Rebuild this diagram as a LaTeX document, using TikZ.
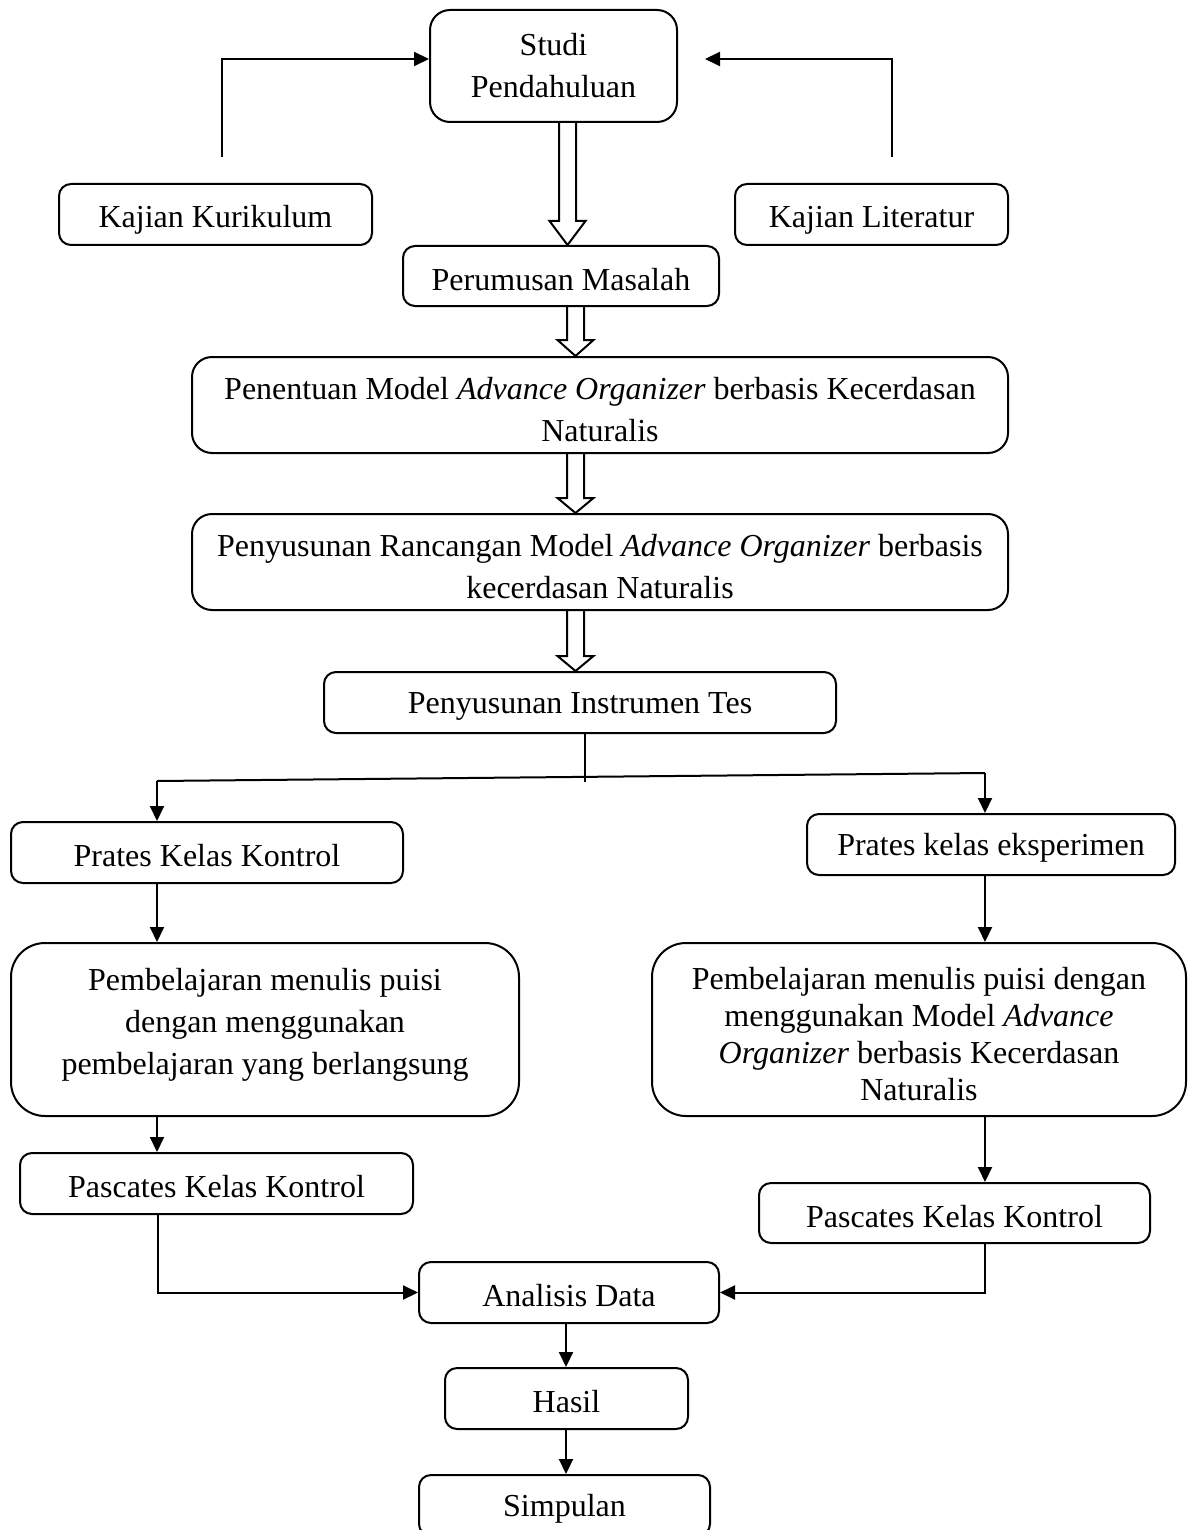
\documentclass[tikz,border=0pt]{standalone}
\usepackage{fontspec}
\setmainfont{Liberation Serif}
\usetikzlibrary{arrows.meta,calc}
\newcommand\hs{\rule{0pt}{14.5pt}}
\newcommand\hm{\rule{0pt}{16pt}}
\newcommand\dn{\rule[-8.5pt]{0pt}{8.5pt}}
\tikzset{
  box/.style={draw, line width=1pt, rounded corners=6pt, align=center, inner sep=0pt,
    font=\fontsize{16}{21}\selectfont},
  ln/.style={line width=1pt},
  arr/.style={line width=1pt, -{Triangle[length=7.5pt,width=7pt]}},
  hol/.style={line width=1pt, line join=miter},
}
\newcommand\hollowarrow[4]{%
  \draw[hol] let \p1=(#2), \p2=(#3) in
   ({#1*0.5pt-4.25pt},\y1) -- ({#1*0.5pt-4.25pt},{\y2+#4*0.5pt}) --
   ({#1*0.5pt-9pt},{\y2+#4*0.5pt}) -- ({#1*0.5pt},\y2) --
   ({#1*0.5pt+9pt},{\y2+#4*0.5pt}) -- ({#1*0.5pt+4.25pt},{\y2+#4*0.5pt}) --
   ({#1*0.5pt+4.25pt},\y1);}
\begin{document}
\begin{tikzpicture}[x=0.5pt,y=-0.5pt]
\useasboundingbox (0,0) rectangle (1194,1530);
\clip (0,0) rectangle (1194,1530);
% nodes
\node[box, rounded corners=10pt, minimum width=123.5pt, minimum height=56pt] (studi) at (553.5,66) {Studi\\Pendahuluan};
\node[box, minimum width=156.5pt, minimum height=30.5pt] (kk) at (215.5,214.5) {\hm Kajian Kurikulum};
\node[box, minimum width=136.5pt, minimum height=30.5pt] (kl) at (871.5,214.5) {\hm Kajian Literatur};
\node[box, minimum width=158pt, minimum height=30pt] (perum) at (561,276) {\hs Perumusan Masalah};
\node[box, rounded corners=10pt, minimum width=408pt, minimum height=48pt] (penent) at (600,405)
  {\hm Penentuan Model \textit{Advance Organizer} berbasis Kecerdasan\\Naturalis};
\node[box, rounded corners=10pt, minimum width=408pt, minimum height=48pt] (penyus) at (600,562)
  {\hm Penyusunan Rancangan Model \textit{Advance Organizer} berbasis\\kecerdasan Naturalis};
\node[box, minimum width=256pt, minimum height=30.5pt] (instr) at (580,702.5) {\hs Penyusunan Instrumen Tes};
\node[box, minimum width=196pt, minimum height=30.5pt] (pratesK) at (207,852.5) {\hs Prates Kelas Kontrol};
\node[box, minimum width=184pt, minimum height=30.5pt] (pratesE) at (991,844.5) {\hs Prates kelas eksperimen};
\node[box, rounded corners=17pt, minimum width=254pt, minimum height=86.5pt] (pembK) at (265,1029.5)
  {Pembelajaran menulis puisi\\dengan menggunakan\\pembelajaran yang berlangsung\dn};
\node[box, rounded corners=17pt, minimum width=267pt, minimum height=86.5pt,
  font=\fontsize{16}{18.5}\selectfont] (pembE) at (919,1029.5)
  {\hm Pembelajaran menulis puisi dengan\\menggunakan Model \textit{Advance}\\\textit{Organizer} berbasis Kecerdasan\\Naturalis};
\node[box, minimum width=196.5pt, minimum height=30.5pt] (pascK) at (216.5,1183.5) {\hs Pascates Kelas Kontrol};
\node[box, minimum width=195.5pt, minimum height=30pt] (pascE) at (954.5,1213) {\hs Pascates Kelas Kontrol};
\node[box, minimum width=150pt, minimum height=30.5pt] (anal) at (569,1292.5) {\hs Analisis Data};
\node[box, minimum width=121.5pt, minimum height=30.5pt] (hasil) at (566.5,1398.5) {\hs Hasil};
\node[box, minimum width=145.5pt, minimum height=30.5pt] (simp) at (564.5,1505.5) {\hs Simpulan};
% top side arrows
\coordinate (lk) at (222,157);
\coordinate (rk) at (892,157);
\coordinate (rt) at (705,59);
\draw[arr] (lk) |- (studi.west |- 0,59);
\draw[arr] (rk) |- (rt);
% hollow arrows
\hollowarrow{567.5}{studi.south}{perum.north}{24}
\hollowarrow{575.5}{perum.south}{penent.north}{16}
\hollowarrow{575.5}{penent.south}{penyus.north}{15}
\hollowarrow{575.5}{penyus.south}{instr.north}{15}
% branch
\coordinate (jb) at (585,782);
\coordinate (jl) at (157,781);
\coordinate (jr) at (985,773);
\draw[ln] (instr.south -| 585,0) -- (jb);
\draw[ln] (jl) -- (jr);
\draw[arr] (jl) -- (pratesK.north -| jl);
\draw[arr] (jr) -- (pratesE.north -| jr);
% left column
\draw[arr] (pratesK.south -| 157,0) -- (pembK.north -| 157,0);
\draw[arr] (pembK.south -| 157,0) -- (pascK.north -| 157,0);
\draw[arr] (pascK.south -| 158,0) |- (anal.west);
% right column
\draw[arr] (pratesE.south -| 985,0) -- (pembE.north -| 985,0);
\draw[arr] (pembE.south -| 985,0) -- (pascE.north -| 985,0);
\draw[arr] (pascE.south -| 985,0) |- (anal.east);
% bottom
\draw[arr] (anal.south -| 566,0) -- (hasil.north -| 566,0);
\draw[arr] (hasil.south -| 566,0) -- (simp.north -| 566,0);
\end{tikzpicture}
\end{document}
